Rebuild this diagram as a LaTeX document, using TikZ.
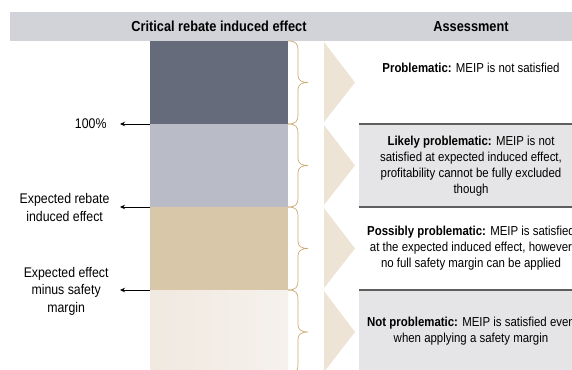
\documentclass[tikz,border=0pt]{standalone}
\usepackage{fontspec}
\setmainfont{Liberation Sans}[FakeStretch=0.88]
\usepackage{tikz}
\usetikzlibrary{arrows.meta}

\definecolor{headgray}{HTML}{D2D3D8}
\definecolor{slate}{HTML}{666B7C}
\definecolor{lightslate}{HTML}{B9BCC6}
\definecolor{tan}{HTML}{D8C7A8}
\definecolor{creamleft}{HTML}{F0E9E0}
\definecolor{creamright}{HTML}{F5F1EC}
\definecolor{chevcol}{HTML}{EDE4D6}
\definecolor{bracecol}{HTML}{CBAA74}
\definecolor{boxgray}{HTML}{E5E5E7}
\definecolor{rulecol}{HTML}{5E5E5E}

\tikzset{
	headtext/.style = {font=\bfseries\fontsize{14.5}{17}\selectfont},
	sidetext/.style = {font=\fontsize{14}{17.5}\selectfont, align=center, anchor=east},
	boxtext/.style = {font=\fontsize{13}{16}\selectfont, align=center},
	pointer/.style = {-{Stealth[length=5pt,width=4.5pt]}, line width=0.8pt},
	bracepath/.style = {draw=bracecol, line width=0.7pt},
}

\begin{document}
\begin{tikzpicture}[x=1pt,y=-1pt]

	\useasboundingbox (0,0) rectangle (572,369);
	\clip (0,0) rectangle (572,369);

	% header
	\fill[headgray] (10,12) rectangle (572,41);
	\node[headtext] (crit) at (219,26.5) {Critical rebate induced effect};
	\node[headtext] (assess) at (471,26.5) {Assessment};

	% the bar
	\fill[slate] (150,41) rectangle (288,124);
	\fill[lightslate] (150,124) rectangle (288,207);
	\fill[tan] (150,207) rectangle (288,290);
	\shade[left color=creamleft, right color=creamright] (150,290) rectangle (288,374);

	\coordinate (m1) at (150,124);
	\coordinate (m2) at (150,207);
	\coordinate (m3) at (150,290);

	% braces and chevrons
	\foreach \ya/\yb in {41/124,124/207,207/290,290/374}{
		\pgfmathsetmacro\ym{(\ya+\yb)/2}
		\draw[bracepath] (288,\ya) .. controls (296,\ya) and (298,\ya+3) .. (298,\ya+9)
			-- (298,\ym-7) .. controls (298,\ym-2) and (302,\ym) .. (308,\ym)
			.. controls (302,\ym) and (298,\ym+2) .. (298,\ym+7)
			-- (298,\yb-9) .. controls (298,\yb-3) and (296,\yb) .. (288,\yb);
		\fill[chevcol] (324,\ya+1) -- (355,\ym) -- (324,\yb-2) -- cycle;
	}

	% assessment boxes
	\fill[boxgray] (359,124) rectangle (572,207);
	\fill[boxgray] (359,290) rectangle (572,374);
	\draw[rulecol, line width=1.2pt] (359,124) -- (572,124);
	\draw[rulecol, line width=1.2pt] (359,207) -- (572,207);
	\draw[rulecol, line width=1.2pt] (359,290) -- (572,290);

	\node[boxtext] (prob) at (471,68) {\textbf{Problematic:} MEIP is not satisfied};
	\node[boxtext] (likely) at (471,166) {\textbf{Likely problematic:} MEIP is not\\satisfied at expected induced effect,\\profitability cannot be fully excluded\\though};
	\node[boxtext] (possibly) at (471,248) {\textbf{Possibly problematic:} MEIP is satisfied\\at the expected induced effect, however\\no full safety margin can be applied};
	\node[boxtext] (notprob) at (471,331) {\textbf{Not problematic:} MEIP is satisfied even\\when applying a safety margin};

	% levels on the left
	\node[sidetext] (full) at (110,124) {100\%};
	\node[sidetext] (expected) at (113,207.5) {Expected rebate\\induced effect};
	\node[sidetext] (margin) at (112,291) {Expected effect\\minus safety\\margin};

	\draw[pointer] (m1) -- ([xshift=10pt]full.east);
	\draw[pointer] (m2) -- ([xshift=7pt]expected.east |- m2);
	\draw[pointer] (m3) -- ([xshift=8pt]margin.east |- m3);

\end{tikzpicture}
\end{document}
